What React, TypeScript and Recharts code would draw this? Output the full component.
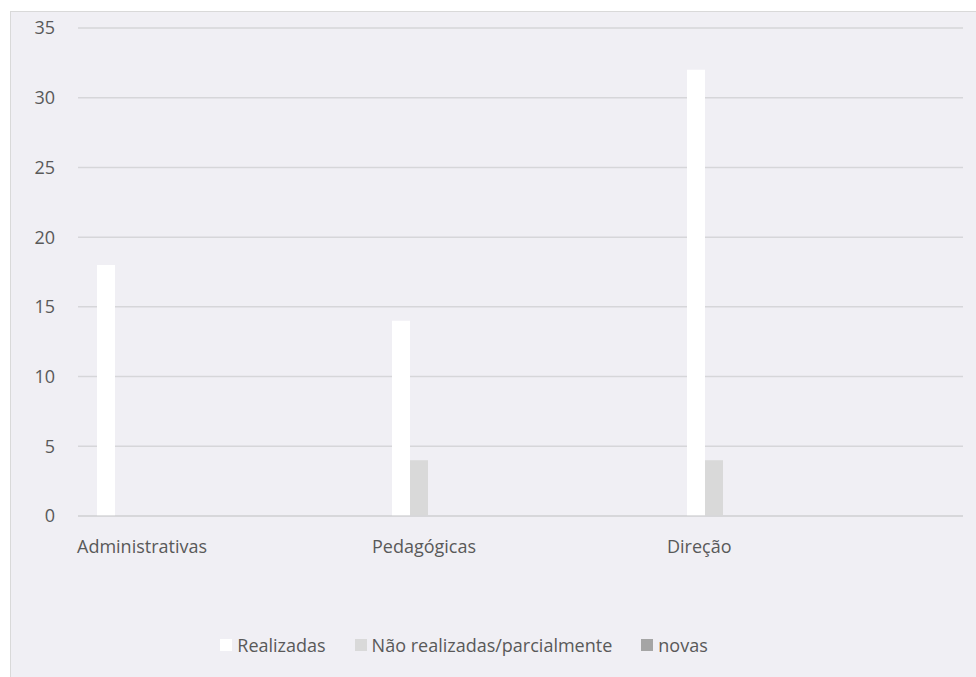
import { Bar, BarChart, CartesianGrid, Legend, XAxis, YAxis } from 'recharts'

const categories = ['Administrativas', 'Pedagógicas', 'Direção']
const realizadas = [18, 14, 32]
const naoRealizadas = [0, 4, 4]
const novas = [0, 0, 0]
const yTicks = [0, 5, 10, 15, 20, 25, 30, 35]

// Excel leaves room for more series in each group, so the three real bars sit at the left
const spacerKeys = Array.from({ length: 11 }, (_, i) => `spacer${i}`)

const series = [
  { key: 'realizadas', name: 'Realizadas', color: '#ffffff' },
  { key: 'naoRealizadas', name: 'Não realizadas/parcialmente', color: '#d9d9d9' },
  { key: 'novas', name: 'novas', color: '#a5a5a5' },
]

const data = categories.map((name, i) => ({
  name,
  realizadas: realizadas[i],
  naoRealizadas: naoRealizadas[i],
  novas: novas[i],
}))

const textColor = '#595959'
const font = '"Open Sans", sans-serif'

const CategoryTick = (props: any) => {
  const { x, y, payload } = props
  const half = payload?.offset ?? 147.5
  return (
    <text x={x - half - 1} y={y + 29} textAnchor="start" fill={textColor} fontSize={18} fontFamily={font}>
      {payload.value}
    </text>
  )
}

const LegendContent = () => (
  <div
    style={{
      display: 'flex',
      justifyContent: 'center',
      gap: 29,
      paddingRight: 46,
      fontFamily: font,
      fontSize: 18,
      lineHeight: '24px',
      color: textColor,
    }}
  >
    {series.map((s) => (
      <div key={s.key} style={{ display: 'flex', alignItems: 'center' }}>
        <span style={{ width: 12, height: 12, background: s.color, marginRight: 5, display: 'inline-block' }} />
        <span>{s.name}</span>
      </div>
    ))}
  </div>
)

export default function App() {
  return (
    <div
      style={{
        position: 'absolute',
        left: 10,
        top: 11,
        width: 965,
        height: 665,
        borderLeft: '1px solid #d9d9d9',
        borderTop: '1px solid #d9d9d9',
        background: '#f0eff4',
      }}
    >
      <BarChart
        width={965}
        height={665}
        data={data}
        margin={{ top: 16, right: 13, bottom: 107, left: 0 }}
        barCategoryGap={19}
        barGap={0}
      >
        <CartesianGrid vertical={false} stroke="#d6d6d9" strokeWidth={1.5} />
        <XAxis
          dataKey="name"
          axisLine={{ stroke: '#d6d6d9', strokeWidth: 1.5 }}
          tickLine={false}
          interval={0}
          tick={<CategoryTick />}
        />
        <YAxis
          width={67}
          domain={[0, 35]}
          ticks={yTicks}
          axisLine={false}
          tickLine={false}
          tickMargin={17}
          tick={{ fill: textColor, fontSize: 18, fontFamily: font }}
        />
        {series.map((s) => (
          <Bar key={s.key} dataKey={s.key} name={s.name} fill={s.color} isAnimationActive={false} />
        ))}
        {spacerKeys.map((k) => (
          <Bar key={k} dataKey={k} legendType="none" isAnimationActive={false} />
        ))}
        <Legend content={<LegendContent />} verticalAlign="bottom" wrapperStyle={{ top: 621 }} />
      </BarChart>
    </div>
  )
}
